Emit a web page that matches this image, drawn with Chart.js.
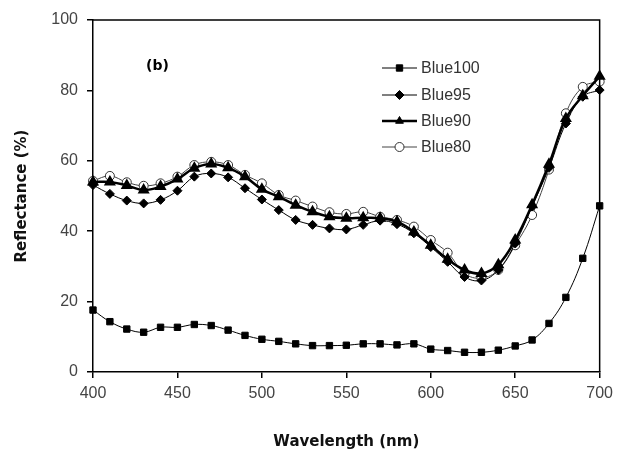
<!DOCTYPE html>
<html>
<head>
<meta charset="utf-8">
<script src="https://cdn.jsdelivr.net/npm/chart.js@4"></script>
<style>
  html, body { margin: 0; padding: 0; background: #fff; }
  #box { width: 619px; height: 455px; position: relative; }
</style>
</head>
<body>
<div id="box"><canvas id="reflChart"></canvas></div>
<script>
// Lunghezze d'onda (nm)
const wavelengths = [400, 410, 420, 430, 440, 450, 460, 470, 480, 490, 500, 510, 520, 530, 540, 550,
                     560, 570, 580, 590, 600, 610, 620, 630, 640, 650, 660, 670, 680, 690, 700];

// Riflettanza (%) per ciascun campione
const blue100 = [17.6, 14.3, 12.2, 11.3, 12.7, 12.7, 13.5, 13.2, 11.9, 10.4, 9.3, 8.7, 8.0, 7.5, 7.5, 7.6,
                 8.0, 8.0, 7.7, 8.0, 6.5, 6.1, 5.6, 5.6, 6.2, 7.4, 9.1, 13.8, 21.2, 32.3, 47.2];
const blue95 = [53.1, 50.6, 48.7, 47.9, 48.9, 51.5, 55.5, 56.4, 55.3, 52.2, 49.0, 46.0, 43.2, 41.8, 40.8, 40.5,
                41.8, 43.0, 42.0, 39.4, 35.5, 31.3, 27.0, 26.0, 29.0, 36.5, 47.0, 58.0, 70.6, 78.2, 80.1];
const blue90 = [54.0, 54.0, 53.0, 51.7, 52.7, 54.8, 57.9, 59.1, 58.0, 55.5, 51.9, 49.8, 47.4, 45.5, 44.1, 43.7,
                43.8, 43.7, 42.7, 39.8, 36.0, 32.0, 29.0, 28.0, 30.5, 37.5, 47.5, 59.0, 72.0, 78.5, 84.0];
const blue80 = [54.3, 55.7, 53.9, 52.9, 53.6, 55.5, 58.8, 59.7, 58.8, 56.0, 53.6, 50.3, 48.7, 47.0, 45.4, 44.9,
                45.5, 44.1, 43.2, 41.3, 37.5, 33.9, 28.0, 26.7, 29.0, 36.0, 44.6, 57.5, 73.5, 81.0, 82.5];

const seriesNames = ['Blue100', 'Blue95', 'Blue90', 'Blue80'];
const xTicks = [400, 450, 500, 550, 600, 650, 700];
const yTicks = [0, 20, 40, 60, 80, 100];

const toXY = vals => vals.map((v, i) => ({ x: wavelengths[i], y: v }));

const tickFont = { family: 'Liberation Sans, Arial, sans-serif', size: 16 };
const titleFont = { family: 'DejaVu Sans, Verdana, sans-serif', size: 15, weight: 'bold' };

// Cornice superiore/destra, etichetta (b) e legenda disegnata a mano
const framePlugin = {
    id: 'frame',
    afterDraw(chart) {
        const { ctx, chartArea: a } = chart;
        ctx.save();
        ctx.strokeStyle = '#000';
        ctx.lineWidth = 1.5;
        ctx.beginPath();
        ctx.moveTo(a.left, a.top);
        ctx.lineTo(a.right, a.top);
        ctx.lineTo(a.right, a.bottom);
        ctx.stroke();

        ctx.fillStyle = '#000';
        ctx.font = 'bold 14px "DejaVu Sans", sans-serif';
        ctx.textBaseline = 'middle';
        ctx.fillText('(b)', 146, 66);

        // legenda
        const rows = [68, 95, 121, 147];
        chart.data.datasets.forEach((ds, i) => {
            const y = rows[i];
            ctx.strokeStyle = ds.borderColor;
            ctx.lineWidth = ds.borderWidth;
            ctx.beginPath();
            ctx.moveTo(382, y);
            ctx.lineTo(417, y);
            ctx.stroke();
            ctx.fillStyle = ds.pointBackgroundColor;
            ctx.strokeStyle = ds.pointBorderColor;
            ctx.lineWidth = 1;
            Chart.helpers.drawPoint(ctx, {
                pointStyle: ds.pointStyle, radius: ds.pointRadius, rotation: 0, borderWidth: 1
            }, 399.5, y);
            ctx.fillStyle = '#333';
            ctx.font = '16px "Liberation Sans", Arial, sans-serif';
            ctx.fillText(ds.label, 421, y + 1);
        });
        ctx.restore();
    }
};

const ctx = document.getElementById('reflChart');
new Chart(ctx, {
    type: 'line',
    data: {
        datasets: [{
            label: seriesNames[0],
            data: toXY(blue100),
            borderColor: '#000',
            borderWidth: 1,
            pointStyle: 'rect',
            pointRadius: 4.5,
            pointBackgroundColor: '#000',
            pointBorderColor: '#000'
        }, {
            label: seriesNames[1],
            data: toXY(blue95),
            borderColor: '#000',
            borderWidth: 1,
            pointStyle: 'rectRot',
            pointRadius: 4.5,
            pointBackgroundColor: '#000',
            pointBorderColor: '#000'
        }, {
            label: seriesNames[2],
            data: toXY(blue90),
            borderColor: '#000',
            borderWidth: 2.5,
            pointStyle: 'triangle',
            pointRadius: 4.5,
            pointBackgroundColor: '#000',
            pointBorderColor: '#000'
        }, {
            label: seriesNames[3],
            data: toXY(blue80),
            borderColor: '#444',
            borderWidth: 1,
            pointStyle: 'circle',
            pointRadius: 4.5,
            pointBackgroundColor: '#fff',
            pointBorderColor: '#333'
        }]
    },
    options: {
        responsive: true,
        maintainAspectRatio: false,
        animation: false,
        events: [],
        layout: { padding: { top: 20, right: 16, left: 9, bottom: 0 } },
        elements: { line: { tension: 0.4 }, point: { borderWidth: 1 } },
        datasets: { line: { clip: false } },
        plugins: {
            legend: { display: false },
            tooltip: { enabled: false }
        },
        scales: {
            x: {
                type: 'linear',
                min: 400,
                max: 700,
                afterBuildTicks: axis => { axis.ticks = xTicks.map(v => ({ value: v })); },
                afterFit: axis => { axis.height = 83; },
                grid: { display: true, drawOnChartArea: false, drawTicks: true, tickLength: 6, color: '#000', lineWidth: 1.5 },
                border: { display: true, color: '#000', width: 1.5 },
                ticks: { color: '#444', font: tickFont, padding: 6, maxRotation: 0 },
                title: { display: true, text: 'Wavelength (nm)', color: '#111', font: titleFont, padding: { top: 12 } }
            },
            y: {
                min: 0,
                max: 100,
                afterBuildTicks: axis => { axis.ticks = yTicks.map(v => ({ value: v })); },
                afterFit: axis => { axis.width = 84; },
                grid: { display: true, drawOnChartArea: false, drawTicks: true, tickLength: 6, color: '#000', lineWidth: 1.5 },
                border: { display: true, color: '#000', width: 1.5 },
                ticks: { color: '#444', font: tickFont, padding: 9 },
                title: { display: true, text: 'Reflectance (%)', color: '#111', font: titleFont, padding: { bottom: 4 } }
            }
        }
    },
    plugins: [framePlugin]
});
</script>
</body>
</html>
